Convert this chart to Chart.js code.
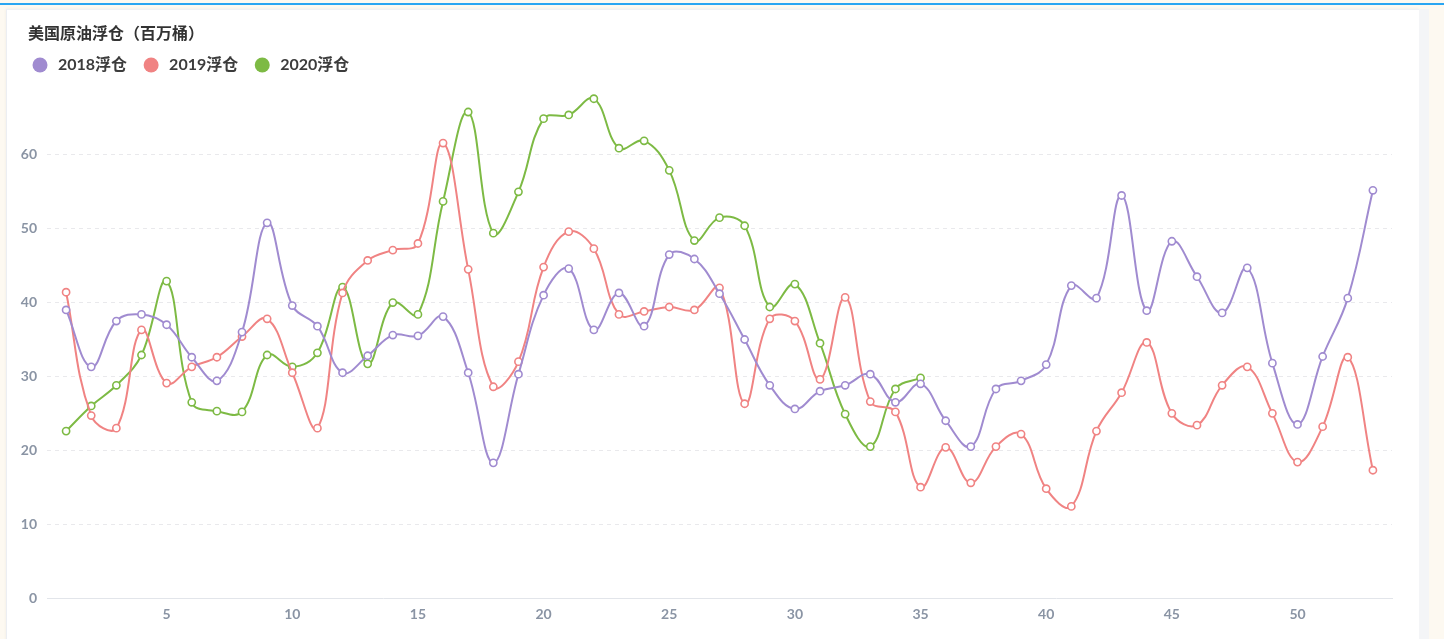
<!DOCTYPE html>
<html>
<head>
<meta charset="utf-8">
<script src="https://cdn.jsdelivr.net/npm/chart.js@4/dist/chart.umd.min.js"></script>
<style>
  html, body { margin: 0; padding: 0; width: 1444px; height: 639px; overflow: hidden; background: #fdf9f1; }
  #topline { position: absolute; left: 0; top: 3px; width: 1444px; height: 2px; background: #2aa6f2; }
  #card { position: absolute; left: 6px; top: 9px; width: 1412px; height: 640px; background: #ffffff;
          border-left: 1px solid #eceef2; border-top: 1px solid #f0f1f4; box-shadow: 0 0 3px rgba(0,0,0,0.06); }
  #strip { position: absolute; left: 1419px; top: 9px; width: 10px; height: 640px; background: #f4f5f7; }
  #wrap { position: absolute; left: 0; top: 0; width: 1444px; height: 639px; }
</style>
</head>
<body>
<div id="topline"></div>
<div id="card"></div>
<div id="strip"></div>
<div id="wrap"><canvas id="c" width="1444" height="639"></canvas></div>
<script>
const chartTitle = '美国原油浮仓（百万桶）';
const weeks = [1,2,3,4,5,6,7,8,9,10,11,12,13,14,15,16,17,18,19,20,21,22,23,24,25,26,27,28,29,30,31,32,33,34,35,36,37,38,39,40,41,42,43,44,45,46,47,48,49,50,51,52,53];
const xTickValues = [5,10,15,20,25,30,35,40,45,50];
const yTickValues = [0,10,20,30,40,50,60];
const seriesNames = ['2018浮仓', '2019浮仓', '2020浮仓'];
const seriesColors = ['#a08bd0', '#f08383', '#7dba44'];
const values2018 = [39.0,31.3,37.5,38.4,37.0,32.6,29.4,36.0,50.8,39.6,
                    36.8,30.5,32.8,35.6,35.5,38.1,30.5,18.3,30.3,41.0,
                    44.6,36.3,41.3,36.8,46.5,45.9,41.2,35.0,28.8,25.6,
                    28.0,28.8,30.3,26.5,29.0,24.0,20.5,28.3,29.4,31.6,
                    42.3,40.6,54.5,38.9,48.3,43.5,38.6,44.7,31.8,23.5,
                    32.7,40.6,55.2];
const values2019 = [41.4,24.7,23.0,36.3,29.1,31.3,32.6,35.4,37.8,30.5,
                    23.0,41.3,45.7,47.1,48.0,61.6,44.5,28.6,32.0,44.8,
                    49.6,47.3,38.4,38.8,39.4,39.0,42.0,26.3,37.8,37.5,
                    29.6,40.7,26.6,25.2,15.0,20.4,15.6,20.5,22.2,14.8,
                    12.4,22.6,27.8,34.6,25.0,23.4,28.8,31.3,25.0,18.4,
                    23.2,32.6,17.3];
const values2020 = [22.6,26.0,28.8,32.9,42.9,26.5,25.3,25.2,32.9,31.3,
                    33.2,42.1,31.7,40.0,38.4,53.7,65.8,49.4,55.0,64.9,
                    65.4,67.6,60.9,61.9,57.9,48.4,51.5,50.4,39.4,42.5,
                    34.5,24.9,20.5,28.3,29.8];

const allValues = [values2018, values2019, values2020];
const FONT = "Lato, 'Noto Sans CJK SC', sans-serif";

const datasets = allValues.map((vals, i) => ({
  label: seriesNames[i],
  data: vals.map((v, k) => ({ x: weeks[k], y: v })),
  borderColor: seriesColors[i],
  backgroundColor: seriesColors[i],
  pointBackgroundColor: '#ffffff',
  pointBorderColor: seriesColors[i],
  pointBorderWidth: 1.6,
  pointRadius: 3.6,
  borderWidth: 2,
  tension: 0.4,
  fill: false
}));

const headerPlugin = {
  id: 'headerLegend',
  afterDraw(chart) {
    const ctx = chart.ctx;
    ctx.save();
    ctx.textBaseline = 'middle';
    ctx.textAlign = 'left';
    ctx.fillStyle = '#333333';
    ctx.font = "bold 16px " + FONT;
    ctx.fillText(chartTitle, 28, 34);
    ctx.font = "bold 16px " + FONT;
    let cx = 40;
    chart.data.datasets.forEach((ds) => {
      ctx.beginPath();
      ctx.fillStyle = ds.borderColor;
      ctx.arc(cx, 65, 7.5, 0, Math.PI * 2);
      ctx.fill();
      ctx.fillStyle = '#3c3c3c';
      ctx.fillText(ds.label, cx + 18, 65);
      cx += 18 + ctx.measureText(ds.label).width + 24;
    });
    ctx.restore();
  }
};

new Chart(document.getElementById('c'), {
  type: 'line',
  data: { datasets },
  plugins: [headerPlugin],
  options: {
    responsive: false,
    animation: false,
    devicePixelRatio: 1,
    layout: { padding: { left: 7, right: 52, top: 81, bottom: 0 } },
    plugins: { legend: { display: false }, title: { display: false }, tooltip: { enabled: false } },
    scales: {
      x: {
        type: 'linear',
        min: 0.24,
        max: 53.76,
        afterBuildTicks(scale) { scale.ticks = xTickValues.map(v => ({ value: v })); },
        afterFit(scale) { scale.height = 41; },
        grid: { display: false, drawTicks: false },
        border: { display: true, color: '#e2e5ea', width: 1 },
        ticks: { padding: 8, color: '#8a94a4', font: { family: FONT, size: 14, weight: 'bold' }, maxRotation: 0 }
      },
      y: {
        min: 0,
        max: 70,
        afterBuildTicks(scale) { scale.ticks = yTickValues.map(v => ({ value: v })); },
        afterFit(scale) { scale.width = 40; },
        grid: {
          color: (c) => (c.tick && c.tick.value === 0) ? 'rgba(0,0,0,0)' : '#e9e9ec',
          drawTicks: false
        },
        border: { display: false, dash: [4, 4] },
        ticks: { padding: 10, color: '#8a94a4', font: { family: FONT, size: 14, weight: 'bold' } }
      }
    }
  }
});
</script>
</body>
</html>
